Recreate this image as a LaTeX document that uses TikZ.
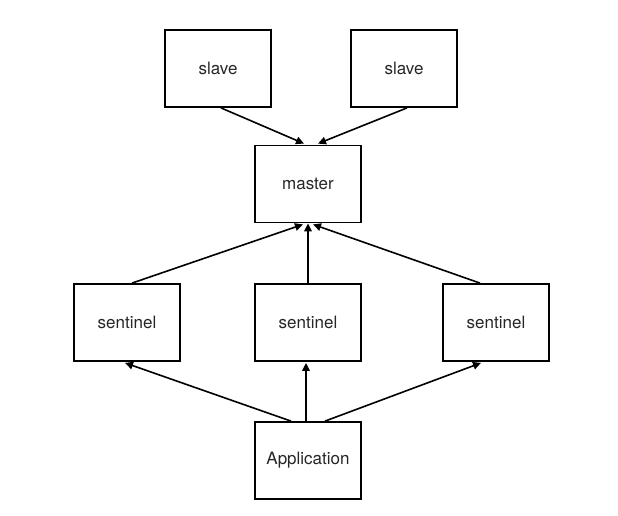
\documentclass[tikz,border=0pt]{standalone}
\usepackage{fontspec}
\setmainfont{TeX Gyre Heros}
\usetikzlibrary{arrows.meta,calc}
\begin{document}
\begin{tikzpicture}[x=1pt,y=-1pt,
  box/.style={draw,line width=1.8pt,minimum width=106pt,minimum height=77pt,inner sep=0pt,
    font=\fontsize{17}{20}\selectfont,text=black!85},
  conn/.style={line width=1.6pt,-{Triangle[length=8pt,width=7.5pt]}}]
\useasboundingbox (0,0) rectangle (618,515);
\node[box] (s1) at (218,68.5) {slave};
\node[box] (s2) at (404,68.5) {slave};
\node[box] (m) at (308,184) {master};
\node[box] (t1) at (127,322.5) {sentinel};
\node[box] (t2) at (308,322.5) {sentinel};
\node[box] (t3) at (496,322.5) {sentinel};
\node[box] (a) at (308,460.5) {Application};
\draw[conn] ($(s1.south)+(3,0)$) -- ($(m.north)+(-4,-1)$);
\draw[conn] ($(s2.south)+(3,0)$) -- ($(m.north)+(10,-1)$);
\draw[conn] ($(t1.north)+(5,0)$) -- ($(m.south)+(-5,1)$);
\draw[conn] (t2.north) -- (m.south);
\draw[conn] ($(t3.north)+(-16,0)$) -- ($(m.south)+(5,1)$);
\draw[conn] ($(a.north)+(-17,0)$) -- ($(t1.south)+(-2,1)$);
\draw[conn] ($(a.north)+(-2,1)$) -- ($(t2.south)+(-2,1)$);
\draw[conn] ($(a.north)+(17,0)$) -- ($(t3.south)+(-15,1)$);
\end{tikzpicture}
\end{document}
